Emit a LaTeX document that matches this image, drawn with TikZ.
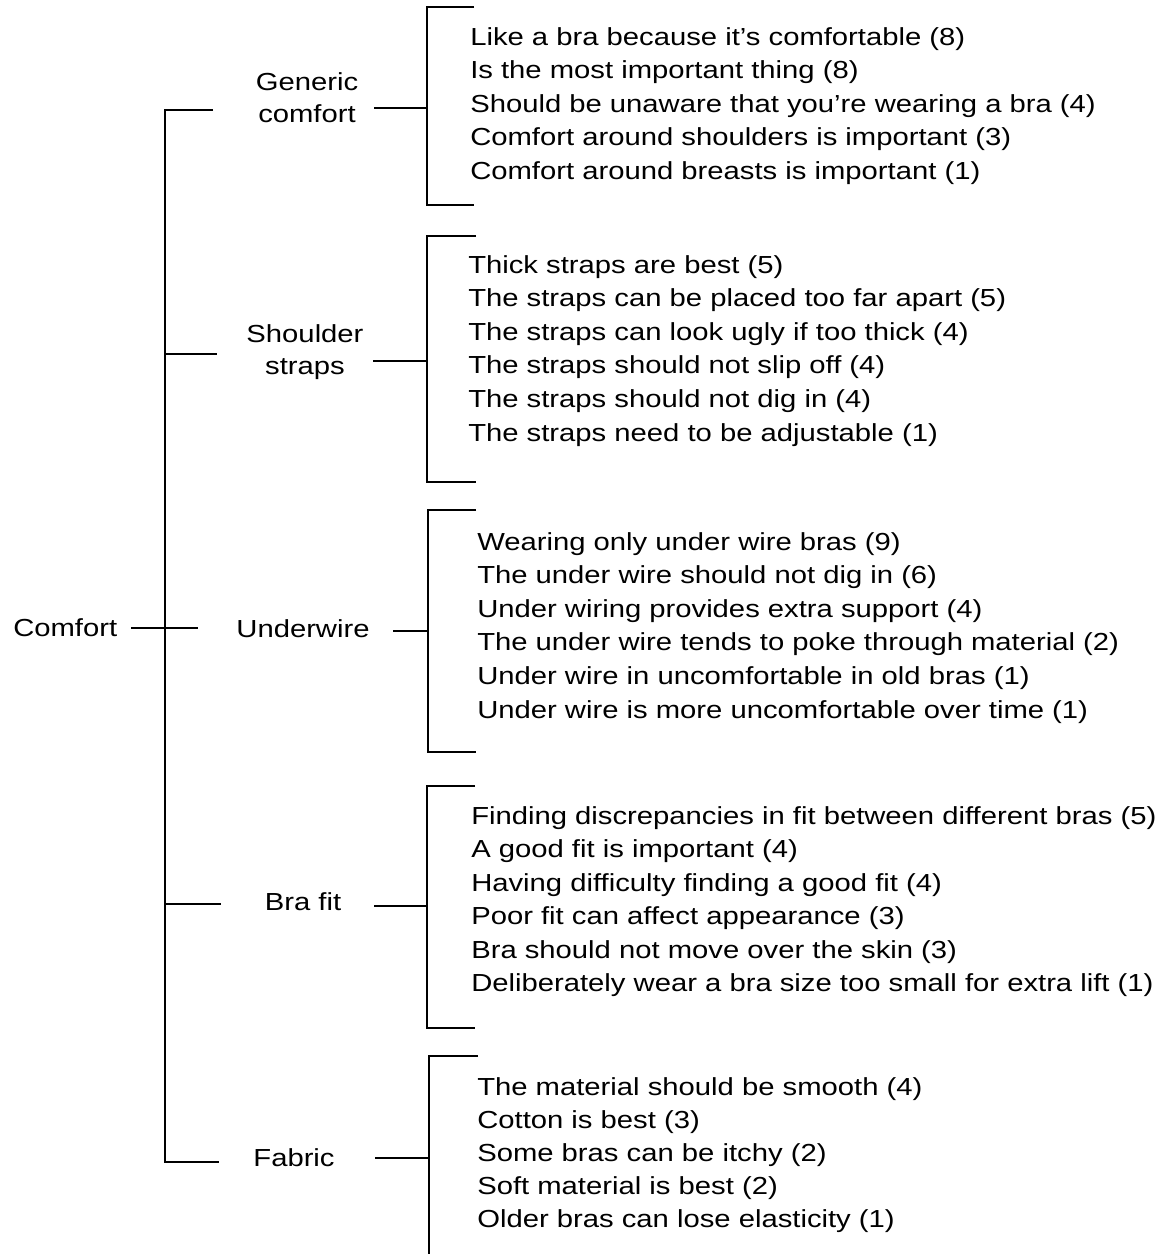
\documentclass[tikz,border=0pt]{standalone}
\usepackage{fontspec}
\setmainfont{Liberation Sans}[FakeStretch=1.185]
\begin{document}
\begin{tikzpicture}[x=0.75pt,y=-0.75pt,
  ln/.style={line width=1.5pt, line join=miter},
  item/.style={anchor=base west, inner sep=0pt, font=\fontsize{18.5}{25.1}\selectfont},
  lbl/.style={inner sep=0pt, align=center, font=\fontsize{18.5}{24.4}\selectfont}]
\useasboundingbox (0,0) rectangle (1176,1254);

% ---- root and branch labels
\node[lbl, anchor=base west] (comfort) at (13,636) {Comfort};
\node[lbl] (gc) at (307,97.5) {Generic\\comfort};
\node[lbl] (ss) at (305,352) {Shoulder\\straps};
\node[lbl, anchor=base] (uw) at (303,637) {Underwire};
\node[lbl, anchor=base] (bf) at (303,910) {Bra fit};
\node[lbl, anchor=base] (fa) at (294,1166) {Fabric};

% ---- trunk coordinates
\coordinate (c-out) at (131,628);
\coordinate (t-gc) at (165,110);  \coordinate (e-gc) at (213,110);
\coordinate (t-ss) at (165,354);  \coordinate (e-ss) at (217,354);
\coordinate (t-uw) at (165,628);  \coordinate (e-uw) at (198,628);
\coordinate (t-bf) at (165,904);  \coordinate (e-bf) at (221,904);
\coordinate (t-fa) at (165,1162); \coordinate (e-fa) at (219,1162);

\draw[ln] (e-gc) -- (t-gc) -- (t-fa) -- (e-fa);
\draw[ln] (t-ss) -- (e-ss);
\draw[ln] (c-out) -- (t-uw) -- (e-uw);
\draw[ln] (t-bf) -- (e-bf);

% ---- brackets
\coordinate (b1-in) at (374,108);  \coordinate (b1) at (427,108);
\coordinate (b2-in) at (373,361);  \coordinate (b2) at (427,361);
\coordinate (b3-in) at (393,631);  \coordinate (b3) at (428,631);
\coordinate (b4-in) at (374,906);  \coordinate (b4) at (427,906);
\coordinate (b5-in) at (375,1158); \coordinate (b5) at (429,1158);

\draw[ln] (b1-in) -- (b1);
\draw[ln] (b2-in) -- (b2);
\draw[ln] (b3-in) -- (b3);
\draw[ln] (b4-in) -- (b4);
\draw[ln] (b5-in) -- (b5);

\draw[ln] (474,7) -- (427,7) -- (427,205) -- (474,205);
\draw[ln] (476,236) -- (427,236) -- (427,482) -- (476,482);
\draw[ln] (476,510) -- (428,510) -- (428,752) -- (476,752);
\draw[ln] (475,786) -- (427,786) -- (427,1028) -- (475,1028);
\draw[ln] (478,1056) -- (429,1056) -- (429,1262);

% ---- items
\foreach \t [count=\i from 0] in {
  Like a bra because it’s comfortable (8),
  Is the most important thing (8),
  Should be unaware that you’re wearing a bra (4),
  Comfort around shoulders is important (3),
  Comfort around breasts is important (1)}
  \node[item] (g1-\i) at (470,45+33.6*\i) {\t};

\foreach \t [count=\i from 0] in {
  Thick straps are best (5),
  The straps can be placed too far apart (5),
  The straps can look ugly if too thick (4),
  The straps should not slip off (4),
  The straps should not dig in (4),
  The straps need to be adjustable (1)}
  \node[item] (g2-\i) at (468,273+33.6*\i) {\t};

\foreach \t [count=\i from 0] in {
  Wearing only under wire bras (9),
  The under wire should not dig in (6),
  Under wiring provides extra support (4),
  The under wire tends to poke through material (2),
  Under wire in uncomfortable in old bras (1),
  Under wire is more uncomfortable over time (1)}
  \node[item] (g3-\i) at (477,550+33.6*\i) {\t};

\foreach \t [count=\i from 0] in {
  Finding discrepancies in fit between different bras (5),
  A good fit is important (4),
  Having difficulty finding a good fit (4),
  Poor fit can affect appearance (3),
  Bra should not move over the skin (3),
  Deliberately wear a bra size too small for extra lift (1)}
  \node[item] (g4-\i) at (471,824+33.5*\i) {\t};

\foreach \t [count=\i from 0] in {
  The material should be smooth (4),
  Cotton is best (3),
  Some bras can be itchy (2),
  Soft material is best (2),
  Older bras can lose elasticity (1)}
  \node[item] (g5-\i) at (477,1095+33*\i) {\t};
\end{tikzpicture}
\end{document}
